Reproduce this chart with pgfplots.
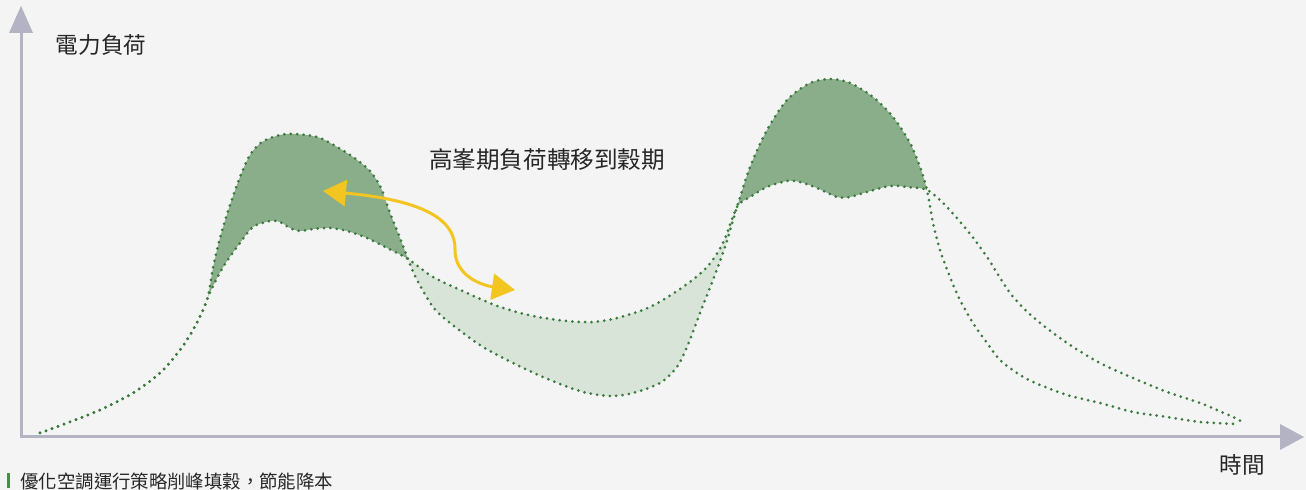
\documentclass[border=0pt]{standalone}
\usepackage{pgfplots}
\pgfplotsset{compat=1.18}
\usepgfplotslibrary{fillbetween}
\usetikzlibrary{arrows.meta}
\usepackage{fontspec}
\setmainfont{Noto Sans CJK TC}
\definecolor{bg}{HTML}{F4F4F4}
\definecolor{axc}{HTML}{B3B3C3}
\definecolor{dotc}{HTML}{3B7A3E}
\definecolor{darkf}{HTML}{8AAD8A}
\definecolor{lightf}{HTML}{D8E4D8}
\definecolor{arr}{HTML}{F2C521}
\definecolor{barc}{HTML}{4A8A4A}
\tikzset{fill between/on layer=main}
\pgfplotstableread{
x y
40 433
67 423
100 410
133 393
160 373
180 350
193 330
203 310
208 297
213 268
220 238
230 205
240 177
250 155
262 142
280 135
295 134
317 137
332 144
353 157
370 171
381 188
390 213
400 238
408 259
417 280
433 307
450 323
483 347
517 365
550 380
583 392
610 396
633 393
660 383
677 367
687 347
700 313
713 280
725 247
737 207
750 167
767 130
787 100
810 83
830 79
850 83
873 97
893 117
910 143
920 167
927 190
933 223
940 250
950 277
960 300
973 323
987 343
1000 360
1017 373
1033 382
1067 395
1100 403
1133 412
1167 417
1200 422
1235 424
}\orig
\pgfplotstableread{
x y
40 433
67 423
100 410
133 393
160 373
180 350
193 330
203 310
208 297
216 280
225 264
240 243
253 227
270 221
280 222
290 228
300 231
313 229
330 228
347 231
367 238
387 248
408 259
433 277
467 293
500 307
533 316
567 321
593 322
617 318
650 307
683 287
707 267
723 243
737 207
750 197
767 187
787 181
800 182
817 188
837 197
850 197
867 192
890 186
907 187
927 190
943 203
967 230
987 257
1010 293
1033 317
1067 343
1100 363
1133 378
1167 392
1200 403
1233 417
1242 422
}\shifted
\begin{document}
\begin{tikzpicture}
\begin{axis}[
  width=653pt, height=245pt, scale only axis,
  xmin=0, xmax=1306, ymin=0, ymax=490, y dir=reverse,
  axis lines=none, clip=false,
]
% background
\fill[bg] (axis cs:0,0) rectangle (axis cs:1306,490);
% curves (named)
\addplot[draw=none, smooth, name path=A] table[x=x,y=y] {\orig};
\addplot[draw=none, smooth, name path=B] table[x=x,y=y] {\shifted};
\addplot[darkf] fill between[of=A and B, soft clip={domain=208:408}];
\addplot[lightf] fill between[of=A and B, soft clip={domain=408:737}];
\addplot[darkf] fill between[of=A and B, soft clip={domain=737:927}];
\addplot[dotc, smooth, line width=1.5pt, line cap=round, dash pattern=on 0pt off 3.2pt] table[x=x,y=y] {\orig};
\addplot[dotc, smooth, line width=1.5pt, line cap=round, dash pattern=on 0pt off 3.2pt] table[x=x,y=y] {\shifted};
% axes
\draw[axc, line width=1.5pt] (axis cs:21,438) -- (axis cs:21,30);
\fill[axc] (axis cs:21,6) -- (axis cs:9,33) -- (axis cs:33,33) -- cycle;
\draw[axc, line width=1.5pt] (axis cs:20,437) -- (axis cs:1282,437);
\fill[axc] (axis cs:1304,437) -- (axis cs:1280,424) -- (axis cs:1280,450) -- cycle;
% yellow arrow
\draw[arr, line width=1.5pt, {Triangle[length=11.5pt,width=13pt]}-{Triangle[length=11.5pt,width=13pt]}]
  (axis cs:323,191) .. controls (axis cs:420,200) and (axis cs:456,218) .. (axis cs:455,250)
  .. controls (axis cs:455,275) and (axis cs:480,285) .. (axis cs:515,290);
% texts
\node[font=\fontsize{11.3pt}{13pt}\selectfont, text=black!85] at (axis cs:101,45) {電力負荷};
\node[font=\fontsize{11.8pt}{13pt}\selectfont, text=black!85] at (axis cs:547,160) {高峯期負荷轉移到穀期};
\node[font=\fontsize{11.3pt}{13pt}\selectfont, text=black!85] at (axis cs:1242,465) {時間};
\fill[barc] (axis cs:7,473) rectangle (axis cs:10,488);
\node[font=\fontsize{9.2pt}{11pt}\selectfont, text=black!85, anchor=west, inner sep=0pt] at (axis cs:20,481) {優化空調運行策略削峰填穀，節能降本};
\end{axis}
\end{tikzpicture}
\end{document}
